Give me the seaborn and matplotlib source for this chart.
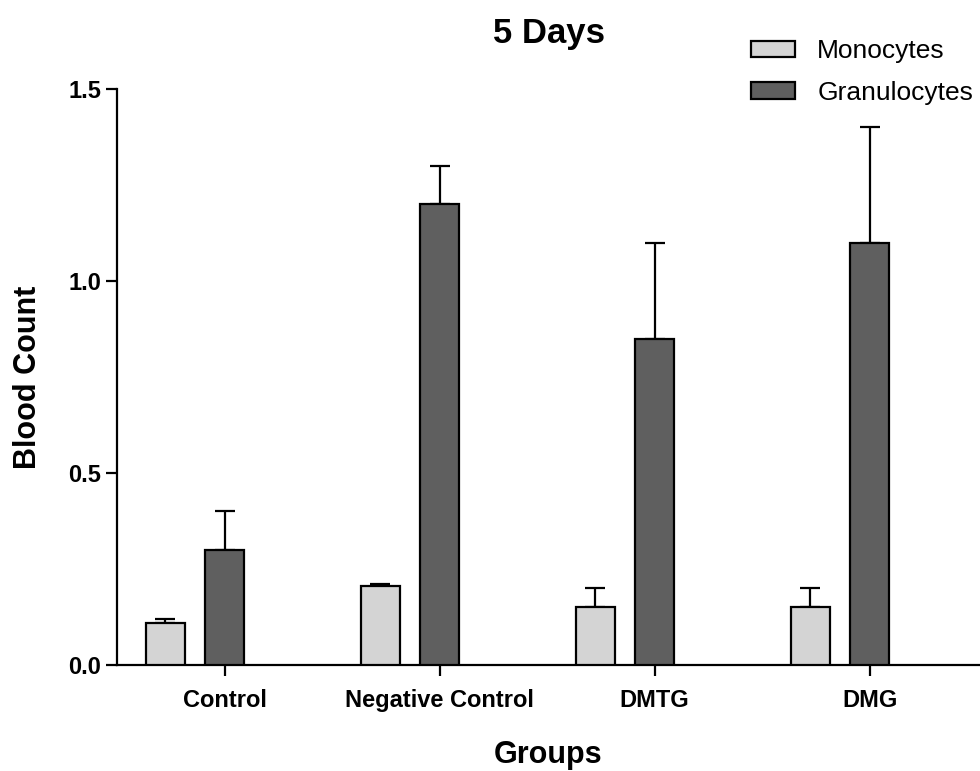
import matplotlib
matplotlib.use("Agg")
import matplotlib.pyplot as plt
import seaborn as sns
import pandas as pd

# Data (mean +/- upper error)
groups = ["Control", "Negative Control", "DMTG", "DMG"]
monocytes = [0.11, 0.205, 0.15, 0.15]
monocytes_err = [0.01, 0.005, 0.05, 0.05]
granulocytes = [0.30, 1.20, 0.85, 1.10]
granulocytes_err = [0.10, 0.10, 0.25, 0.30]
cell_types = ["Monocytes", "Granulocytes"]
colors = ["#d4d4d4", "#5f5f5f"]

df = pd.DataFrame({
    "Group": groups * 2,
    "Cell": [cell_types[0]] * len(groups) + [cell_types[1]] * len(groups),
    "Count": monocytes + granulocytes,
})

sns.set_style("ticks")
plt.rcParams["font.family"] = ["Liberation Sans", "DejaVu Sans"]
plt.rcParams["text.color"] = "black"
plt.rcParams["axes.labelcolor"] = "black"
plt.rcParams["xtick.color"] = "black"
plt.rcParams["ytick.color"] = "black"

fig = plt.figure(figsize=(9.8, 7.71), dpi=100)
ax = fig.add_axes([0.1194, 0.1375, 0.8806, 0.7471])

sns.barplot(data=df, x="Group", y="Count", hue="Cell", order=groups,
            hue_order=cell_types, palette=colors, width=0.55, gap=0.33,
            errorbar=None, edgecolor="black", linewidth=1.6, saturation=1,
            ax=ax, zorder=3)

# Upper-only error bars on top of each bar
for cont, errs in zip(ax.containers, [monocytes_err, granulocytes_err]):
    xs = [b.get_x() + b.get_width() / 2 for b in cont]
    ys = [b.get_height() for b in cont]
    ax.errorbar(xs, ys, yerr=[[0] * len(errs), errs], fmt="none",
                ecolor="black", elinewidth=1.6, capsize=7.5, capthick=1.6,
                zorder=2)

# ticks sit under the granulocyte bars, like the original
tick_x = [b.get_x() + b.get_width() / 2 for b in ax.containers[1]]
ax.set_xticks(tick_x)
ax.set_xticklabels(groups, fontsize=17, fontweight="bold")

ax.set_xlim(-0.363, 3.651)
ax.set_ylim(0, 1.5)
ax.set_yticks([0, 0.5, 1.0, 1.5])
ax.set_yticklabels(["0.0", "0.5", "1.0", "1.5"], fontsize=17, fontweight="bold")

ax.tick_params(axis="both", length=8, width=1.6, color="black", labelcolor="black")
ax.tick_params(axis="x", pad=9)
ax.tick_params(axis="y", pad=3.5)

for s in ["top", "right"]:
    ax.spines[s].set_visible(False)
for s in ["left", "bottom"]:
    ax.spines[s].set_linewidth(1.6)
    ax.spines[s].set_color("black")

ax.set_xlabel("Groups", fontsize=22, fontweight="bold", color="black")
ax.xaxis.set_label_coords(0.5, -0.13)
ax.set_ylabel("Blood Count", fontsize=22, fontweight="bold", color="black")
ax.yaxis.set_label_coords(-0.086, 0.5)
ax.set_title("5 Days", fontsize=25, fontweight="bold", pad=33, color="black")

leg = ax.legend(loc="upper left", bbox_to_anchor=(738 / 980, 1 - 26 / 771),
                bbox_transform=fig.transFigure, frameon=False, fontsize=19,
                borderpad=0, handlelength=1.65, handleheight=0.58,
                handletextpad=0.85, labelspacing=0.66, title=None)
for t in leg.get_texts():
    t.set_color("black")

fig.savefig("out.png", dpi=100)
